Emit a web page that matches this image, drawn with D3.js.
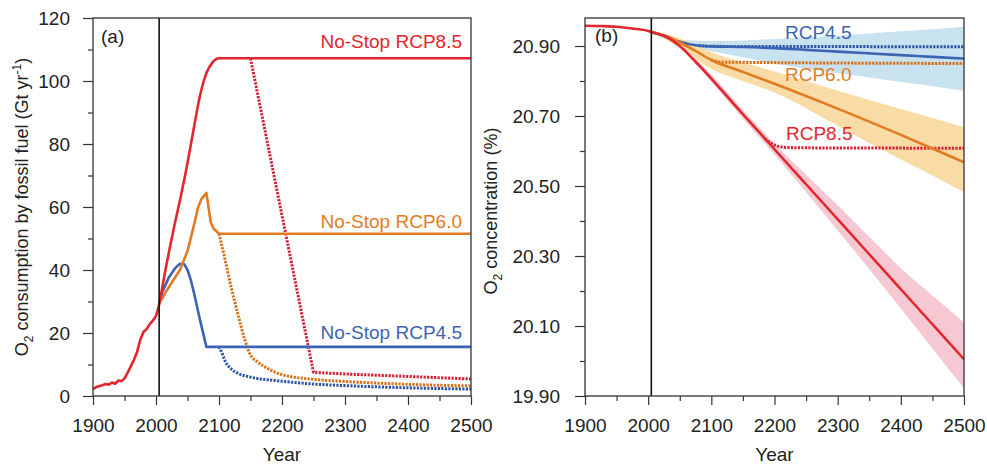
<!DOCTYPE html>
<html>
<head>
<meta charset="utf-8">
<script src="https://cdn.jsdelivr.net/npm/d3@7"></script>
<style>
  body { margin: 0; background: #fff; }
  text { font-family: "Liberation Sans", Arial, sans-serif; }
</style>
</head>
<body>
<div id="myplot"></div>
<script>
// ---- panel (a): O2 consumption by fossil fuel (Gt/yr)
var yrHist = [1900,1905,1910,1915,1920,1925,1930,1935,1940,1945,1950,1955,1960,1965,1970,1975,1980,1985,1990,1995,2000,2005];
var valHist = [2.2,2.8,3.2,3.4,3.8,3.6,4.3,3.9,4.9,4.7,5.6,7.4,9.4,11.5,14,17.8,20.3,21.2,22.8,23.9,25.4,29];

var yrA85 = [2005,2015,2027,2040,2050,2060,2070,2080,2090,2100,2500];
var valA85 = [29,40,52,64,74,85,95.5,102.5,106,107.2,107.2];
var yrA85s = [2150,2250,2300,2350,2400,2450,2500];
var valA85s = [107.2,7.5,7.0,6.6,6.2,5.8,5.4];

var yrA60 = [2005,2010,2017,2025,2038,2050,2060,2067,2072,2080,2087,2092,2100,2500];
var valA60 = [29.5,31,33.5,36,40,46,54,60,62.5,64.5,55,53,51.5,51.5];
var yrA60s = [2100,2110,2120,2130,2140,2150,2160,2175,2200,2250,2300,2350,2400,2450,2500];
var valA60s = [51.5,43,34,26,18.5,13,11,9,6.8,5.3,4.6,4.1,3.7,3.4,3.2];

var yrA45 = [2005,2010,2020,2030,2038,2045,2050,2055,2060,2070,2080,2500];
var valA45 = [29.5,33,37.5,40.5,42,41.8,40,37,33,24,15.6,15.6];
var yrA45s = [2100,2105,2110,2120,2130,2150,2200,2250,2300,2400,2500];
var valA45s = [15.6,13.5,11,8.5,7.2,6,4.7,3.8,3.3,2.6,2.2];

// ---- panel (b): O2 concentration (%)
var yrB85 = [1900,1925,1950,1975,2000,2005,2030,2050,2075,2100,2125,2150,2175,2200,2250,2300,2350,2400,2450,2500];
var valB85 = [20.958,20.957,20.955,20.95,20.943,20.94,20.925,20.90,20.855,20.807,20.756,20.705,20.655,20.605,20.505,20.405,20.305,20.205,20.105,20.005];
var yrB85s = [2185,2195,2205,2220,2250,2500];
var valB85s = [20.635,20.622,20.614,20.61,20.609,20.608];

var yrB60 = [2005,2030,2050,2075,2100,2150,2200,2250,2300,2350,2400,2450,2500];
var valB60 = [20.94,20.928,20.91,20.886,20.86,20.826,20.792,20.757,20.721,20.684,20.646,20.607,20.568];
var yrB60s = [2100,2115,2500];
var valB60s = [20.86,20.854,20.85];

var yrB45 = [2005,2030,2050,2075,2100,2150,2200,2250,2300,2350,2400,2450,2500];
var valB45 = [20.94,20.926,20.912,20.902,20.899,20.897,20.894,20.889,20.884,20.879,20.874,20.869,20.864];
var yrB45s = [2080,2100,2500];
var valB45s = [20.901,20.899,20.898];

// uncertainty ranges
var yrBand = [2005,2050,2100,2150,2200,2250,2300,2350,2400,2450,2500];
var lo85 = [20.94,20.897,20.798,20.692,20.59,20.482,20.373,20.263,20.15,20.036,19.922];
var hi85 = [20.94,20.903,20.818,20.718,20.621,20.532,20.445,20.355,20.265,20.187,20.11];
var lo60 = [20.94,20.895,20.834,20.80,20.767,20.722,20.672,20.623,20.576,20.53,20.483];
var hi60 = [20.94,20.922,20.882,20.853,20.827,20.80,20.772,20.746,20.72,20.694,20.668];
var lo45 = [20.94,20.905,20.885,20.868,20.85,20.835,20.822,20.81,20.797,20.785,20.772];
var hi45 = [20.94,20.918,20.914,20.916,20.92,20.925,20.93,20.936,20.942,20.948,20.955];

var xTicks = [1900,2000,2100,2200,2300,2400,2500];
var xMinor = [1950,2050,2150,2250,2350,2450];
var yTicksA = [0,20,40,60,80,100,120];
var yMinorA = [10,30,50,70,90,110];
var yTicksB = [19.9,20.1,20.3,20.5,20.7,20.9];
var yMinorB = [20.0,20.2,20.4,20.6,20.8];

var red = "#e3262d", orange = "#e27c24", blue = "#3c63b4";
var redD = "#d21f36", orangeD = "#d66f18", blueD = "#2d54a6";

var svg = d3.select('div#myplot')
  .append('svg')
  .attr('width', 987)
  .attr('height', 466);

var plotTop = 18, plotBottom = 396;
var fs = 19;

function zip(xs, ys) { return xs.map((d, i) => [d, ys[i]]); }

function drawFrame(g, x, y, yt, ym, fmt, padY) {
  g.append("g")
    .attr("transform", "translate(0," + plotBottom + ")")
    .call(d3.axisBottom(x).tickValues(xTicks).tickSizeInner(9).tickSizeOuter(0).tickPadding(14).tickFormat(d3.format("d")))
    .call(a => a.select(".domain").remove())
    .call(a => a.selectAll("text").attr("font-size", fs).attr("fill", "#222"));
  g.append("g")
    .attr("transform", "translate(0," + plotBottom + ")")
    .call(d3.axisBottom(x).tickValues(xMinor).tickSize(5).tickFormat(""))
    .call(a => a.select(".domain").remove());
  g.append("g")
    .attr("transform", "translate(" + x.range()[0] + ",0)")
    .call(d3.axisLeft(y).tickValues(yt).tickSizeInner(10).tickSizeOuter(0).tickPadding(padY).tickFormat(fmt))
    .call(a => a.select(".domain").remove())
    .call(a => a.selectAll("text").attr("font-size", fs).attr("fill", "#222"));
  g.append("g")
    .attr("transform", "translate(" + x.range()[0] + ",0)")
    .call(d3.axisLeft(y).tickValues(ym).tickSize(5).tickFormat(""))
    .call(a => a.select(".domain").remove());
  g.selectAll(".tick line").attr("stroke", "#333").attr("stroke-width", 1.2);

  g.append("rect")
    .attr("x", x.range()[0]).attr("y", plotTop)
    .attr("width", x.range()[1] - x.range()[0])
    .attr("height", plotBottom - plotTop)
    .attr("fill", "none")
    .attr("stroke", "#333")
    .attr("stroke-width", 1.3);

  g.append("text")
    .attr("x", (x.range()[0] + x.range()[1]) / 2)
    .attr("y", 461)
    .attr("text-anchor", "middle")
    .attr("font-size", fs)
    .attr("fill", "#222")
    .text("Year");
}

function addLine(g, x, y, data, color, dashed, curve) {
  g.append("path")
    .datum(data)
    .attr("fill", "none")
    .attr("stroke", color)
    .attr("stroke-width", dashed ? 3 : 2.6)
    .attr("stroke-dasharray", dashed ? "2.2,1.3" : null)
    .attr("stroke-linejoin", "round")
    .attr("d", d3.line().x(d => x(d[0])).y(d => y(d[1])).curve(curve || d3.curveLinear));
}

function addBand(g, x, y, xs, lo, hi, color) {
  g.append("path")
    .datum(xs.map((d, i) => [d, lo[i], hi[i]]))
    .attr("fill", color)
    .attr("stroke", "none")
    .attr("d", d3.area().x(d => x(d[0])).y0(d => y(d[1])).y1(d => y(d[2])).curve(d3.curveMonotoneX));
}

var smooth = d3.curveMonotoneX;

// ================= panel (a)
var xA = d3.scaleLinear().domain([1900, 2500]).range([93, 471]);
var yA = d3.scaleLinear().domain([0, 120]).range([plotBottom, plotTop]);
var pa = svg.append("g").attr("id", "panelA");

addLine(pa, xA, yA, zip(yrA45s, valA45s), blueD, true, smooth);
addLine(pa, xA, yA, zip(yrA60s, valA60s), orangeD, true, smooth);
addLine(pa, xA, yA, zip(yrA85s, valA85s), redD, true);
addLine(pa, xA, yA, zip(yrA45, valA45), blue, false);
addLine(pa, xA, yA, zip(yrA60, valA60), orange, false);
addLine(pa, xA, yA, zip(yrHist, valHist), red, false);
addLine(pa, xA, yA, zip(yrA85, valA85), red, false, smooth);

pa.append("line")
  .attr("x1", xA(2005)).attr("x2", xA(2005))
  .attr("y1", plotTop).attr("y2", plotBottom)
  .attr("stroke", "#111").attr("stroke-width", 1.6);

drawFrame(pa, xA, yA, yTicksA, yMinorA, d3.format("d"), 13);

pa.append("text").attr("x", 101).attr("y", 43).attr("font-size", fs).attr("fill", "#222").text("(a)");
pa.append("text").attr("x", 462).attr("y", 48).attr("text-anchor", "end").attr("font-size", fs).attr("fill", red).text("No-Stop RCP8.5");
pa.append("text").attr("x", 462).attr("y", 228).attr("text-anchor", "end").attr("font-size", fs).attr("fill", orange).text("No-Stop RCP6.0");
pa.append("text").attr("x", 462).attr("y", 339).attr("text-anchor", "end").attr("font-size", fs).attr("fill", blue).text("No-Stop RCP4.5");

var ta = pa.append("text")
  .attr("transform", "translate(28,207) rotate(-90)")
  .attr("text-anchor", "middle")
  .attr("font-size", 18)
  .attr("fill", "#222");
ta.append("tspan").text("O");
ta.append("tspan").attr("font-size", 12).attr("dy", 5).text("2");
ta.append("tspan").attr("dy", -5).text(" consumption by fossil fuel (Gt yr");
ta.append("tspan").attr("font-size", 12).attr("dy", -7).text("-1");
ta.append("tspan").attr("dy", 7).text(")");

// ================= panel (b)
var xB = d3.scaleLinear().domain([1900, 2500]).range([585, 964]);
var yB = d3.scaleLinear().domain([19.9, 20.98]).range([plotBottom, plotTop]);
var pb = svg.append("g").attr("id", "panelB");

addBand(pb, xB, yB, yrBand, lo45, hi45, "#c8e2f0");
addBand(pb, xB, yB, yrBand, lo60, hi60, "#f9dba5");
addBand(pb, xB, yB, yrBand, lo85, hi85, "#f6c8d1");

addLine(pb, xB, yB, zip(yrB45s, valB45s), blueD, true, smooth);
addLine(pb, xB, yB, zip(yrB60s, valB60s), orangeD, true, smooth);
addLine(pb, xB, yB, zip(yrB85s, valB85s), redD, true, smooth);
addLine(pb, xB, yB, zip(yrB45, valB45), blue, false, smooth);
addLine(pb, xB, yB, zip(yrB60, valB60), orange, false, smooth);
addLine(pb, xB, yB, zip(yrB85, valB85), red, false, smooth);

pb.append("line")
  .attr("x1", xB(2005)).attr("x2", xB(2005))
  .attr("y1", plotTop).attr("y2", plotBottom)
  .attr("stroke", "#111").attr("stroke-width", 1.6);

drawFrame(pb, xB, yB, yTicksB, yMinorB, d3.format(".2f"), 15);

pb.append("text").attr("x", 595).attr("y", 42).attr("font-size", fs).attr("fill", "#222").text("(b)");
pb.append("text").attr("x", 785).attr("y", 39).attr("font-size", fs).attr("fill", blue).text("RCP4.5");
pb.append("text").attr("x", 785).attr("y", 81).attr("font-size", fs).attr("fill", orange).text("RCP6.0");
pb.append("text").attr("x", 786).attr("y", 140).attr("font-size", fs).attr("fill", red).text("RCP8.5");

var tb = pb.append("text")
  .attr("transform", "translate(497,211) rotate(-90)")
  .attr("text-anchor", "middle")
  .attr("font-size", 18)
  .attr("fill", "#222");
tb.append("tspan").text("O");
tb.append("tspan").attr("font-size", 12).attr("dy", 5).text("2");
tb.append("tspan").attr("dy", -5).text(" concentration (%)");
</script>
</body>
</html>
